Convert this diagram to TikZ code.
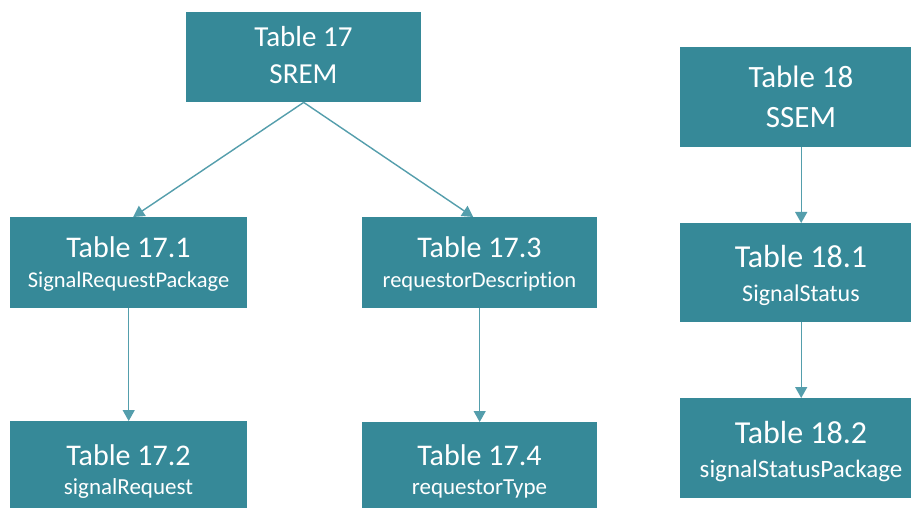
\documentclass[tikz,border=0pt]{standalone}
\usepackage{fontspec}
\setmainfont[Ligatures=NoCommon]{Carlito}
\usetikzlibrary{arrows.meta}
\definecolor{boxteal}{RGB}{54,137,152}
\definecolor{lineteal}{RGB}{84,158,172}
\begin{document}
\begin{tikzpicture}[x=1pt,y=-1pt,
  tbox/.style={fill=boxteal, draw=none, inner sep=0pt, anchor=north west},
  ttl/.style={text=white, inner sep=0pt, anchor=base},
  conn/.style={draw=lineteal, line width=1.4pt, -{Triangle[length=11pt,width=12pt]}},
]
\clip (0,0) rectangle (911,508);
\fill[white] (0,0) rectangle (911,508);
% boxes
\node[tbox, minimum width=235pt, minimum height=90pt] (t17) at (186,12) {};
\node[tbox, minimum width=237pt, minimum height=91pt] (t171) at (10,217) {};
\node[tbox, minimum width=235pt, minimum height=91pt] (t173) at (362,217) {};
\node[tbox, minimum width=237pt, minimum height=92pt] (t172) at (10,421) {};
\node[tbox, minimum width=235pt, minimum height=92pt] (t174) at (362,422) {};
\node[tbox, minimum width=242pt, minimum height=100pt] (t18) at (680,47) {};
\node[tbox, minimum width=242pt, minimum height=99pt] (t181) at (680,223) {};
\node[tbox, minimum width=242pt, minimum height=100pt] (t182) at (680,398) {};
% texts
\node[ttl, font=\fontsize{29}{29}\selectfont] (t17a) at (303.5,47) {Table 17};
\node[ttl, font=\fontsize{29}{29}\selectfont] (t17b) at (303.5,84) {SREM};
\node[ttl, font=\fontsize{30}{30}\selectfont] (t171a) at (128.5,258) {Table 17.1};
\node[ttl, font=\fontsize{22.5}{22.5}\selectfont] (t171b) at (128.5,287) {SignalRequestPackage};
\node[ttl, font=\fontsize{30}{30}\selectfont] (t173a) at (479.5,258) {Table 17.3};
\node[ttl, font=\fontsize{22.5}{22.5}\selectfont] (t173b) at (479.5,287) {requestorDescription};
\node[ttl, font=\fontsize{30}{30}\selectfont] (t172a) at (128.5,465) {Table 17.2};
\node[ttl, font=\fontsize{23}{23}\selectfont] (t172b) at (128.5,494) {signalRequest};
\node[ttl, font=\fontsize{30}{30}\selectfont] (t174a) at (479.5,465) {Table 17.4};
\node[ttl, font=\fontsize{23}{23}\selectfont] (t174b) at (479.5,494) {requestorType};
\node[ttl, font=\fontsize{31}{31}\selectfont] (t18a) at (801,88) {Table 18};
\node[ttl, font=\fontsize{31}{31}\selectfont] (t18b) at (801,128) {SSEM};
\node[ttl, font=\fontsize{32}{32}\selectfont] (t181a) at (801,267) {Table 18.1};
\node[ttl, font=\fontsize{24}{24}\selectfont] (t181b) at (801,301) {SignalStatus};
\node[ttl, font=\fontsize{32}{32}\selectfont] (t182a) at (801,443) {Table 18.2};
\node[ttl, font=\fontsize{25}{25}\selectfont] (t182b) at (801,477) {signalStatusPackage};
% connectors
\draw[conn] (t17.south) -- ([xshift=4.5pt]t171.north);
\draw[conn] (t17.south) -- ([xshift=-6.5pt]t173.north);
\draw[conn] (t171.south) -- (t172.north);
\draw[conn] (t173.south) -- (t174.north);
\draw[conn] (t18.south) -- (t181.north);
\draw[conn] (t181.south) -- (t182.north);
\end{tikzpicture}
\end{document}
